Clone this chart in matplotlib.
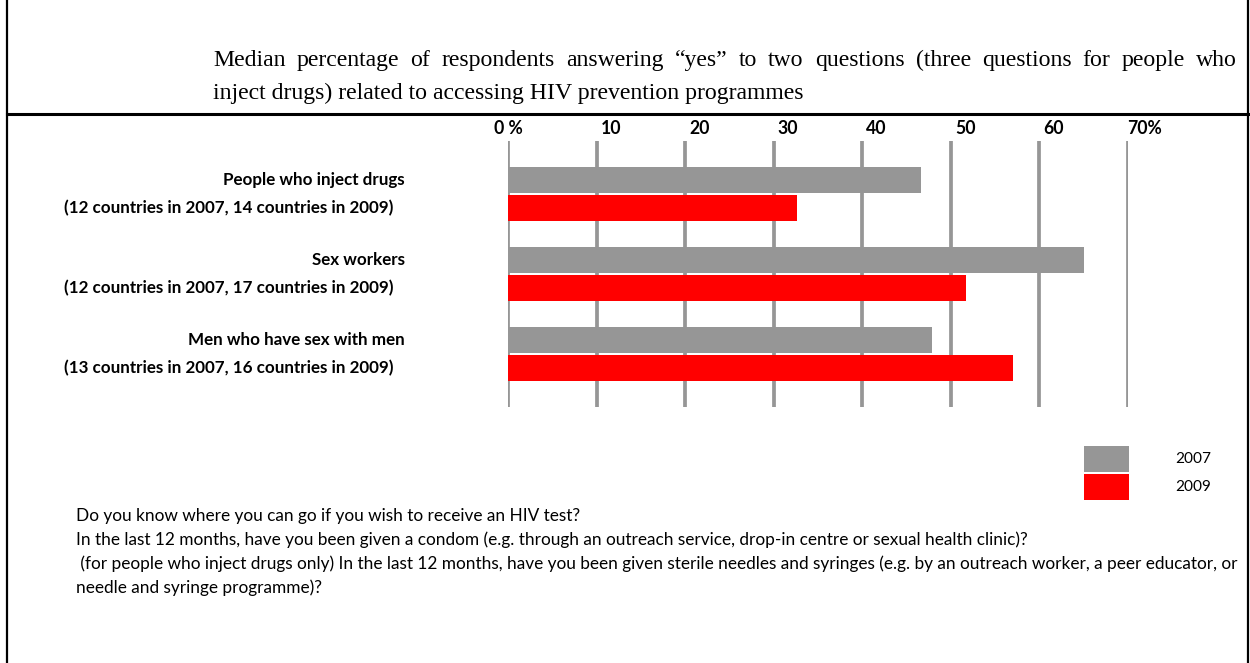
import matplotlib
matplotlib.use("Agg")
import matplotlib.pyplot as plt
from matplotlib.patches import Rectangle
from matplotlib.lines import Line2D
from matplotlib import transforms
import numpy as np

# ---------------- data ----------------
groups = ["People who inject drugs", "Sex workers", "Men who have sex with men"]
group_notes = ["(12 countries in 2007, 14 countries in 2009)",
               "(12 countries in 2007, 17 countries in 2009)",
               "(13 countries in 2007, 16 countries in 2009)"]
values_2007 = [46.6, 65.0, 47.9]
values_2009 = [32.6, 51.7, 57.0]
series_labels = ["2007", "2009"]
tick_values = [0, 10, 20, 30, 40, 50, 60, 70]
tick_labels = ["0 %", "10", "20", "30", "40", "50", "60", "70%"]
title_line1 = ("Median percentage of respondents answering \u201cyes\u201d to two questions "
               "(three questions for people who")
title_line2 = "inject drugs) related to accessing HIV prevention programmes"
footnotes = [
    "Do you know where you can go if you wish to receive an HIV test?",
    "In the last 12 months, have you been given a condom (e.g. through an outreach service, drop-in centre or sexual health clinic)?",
    " (for people who inject drugs only) In the last 12 months, have you been given sterile needles and syringes (e.g. by an outreach worker, a peer educator, or",
    "needle and syringe programme)?",
]

GRAY = "#969696"
RED = "#FF0000"
W, H = 1250, 663
SANS = ["Lato", "DejaVu Sans"]
SERIF = ["Liberation Serif", "DejaVu Serif"]

fig = plt.figure(figsize=(W / 100, H / 100), dpi=100)
fig.patch.set_facecolor("white")


def fx(x):
    return x / W


def fy(y):
    return 1 - y / H


renderer = fig.canvas.get_renderer()


def fit_width(t, target):
    bb = t.get_window_extent(renderer)
    t.set_fontsize(t.get_fontsize() * target / bb.width)


# ---------------- axes with bars ----------------
ax = fig.add_axes([fx(508), fy(407), fx(1128) - fx(508), fy(141) - fy(407)])
ax.set_xlim(0, 70)
ax.set_ylim(2.6625, -0.6625)
for s in ax.spines.values():
    s.set_visible(False)
ax.set_xticks([])
ax.set_yticks([])
ax.patch.set_alpha(0)

y = np.arange(len(groups))
off = 0.175
bh = 0.33
ax.vlines(tick_values, -0.6625, 2.6625, colors=GRAY, linewidth=2.7, zorder=1)
ax.barh(y - off, values_2007, height=bh, color=GRAY, zorder=2, label=series_labels[0])
ax.barh(y + off, values_2009, height=bh, color=RED, zorder=2, label=series_labels[1])

# tick labels on top
xtr = ax.get_xaxis_transform()
ylab = 1 + (141 - 128) / 266
tick_texts = []
for i, (v, lab) in enumerate(zip(tick_values, tick_labels)):
    if i == 0:
        tt = ax.text(v, ylab, lab, transform=xtr, ha="center", va="center",
                     fontsize=11, fontweight="bold", family=SANS)
    else:
        dx = 3 if i < len(tick_values) - 1 else -0.5
        tr = transforms.offset_copy(xtr, fig=fig, x=dx, y=0, units="points")
        tt = ax.text(v, ylab, lab, transform=tr, ha="left", va="center",
                     fontsize=11, fontweight="bold", family=SANS)
    tick_texts.append(tt)
fit_width(tick_texts[-1], 35)
for tt in tick_texts:
    tt.set_fontsize(tick_texts[-1].get_fontsize())

# category labels
btr = transforms.blended_transform_factory(fig.transFigure, ax.transData)
for i, (g, n) in enumerate(zip(groups, group_notes)):
    t1 = ax.text(fx(405), y[i] - off, g, transform=btr, ha="right", va="center",
                 fontsize=11, fontweight="bold", family=SANS)
    t2 = ax.text(fx(393), y[i] + off, n, transform=btr, ha="right", va="center",
                 fontsize=11, fontweight="bold", family=SANS)
    fit_width(t2, 330)
    t1.set_fontsize(t2.get_fontsize())

# ---------------- title (justified serif) ----------------
t = fig.text(fx(213), fy(99), title_line2, ha="left", va="baseline",
             fontsize=15, family=SERIF)
fit_width(t, 595)
tsize = t.get_fontsize()
words = title_line1.split()
wt = []
for w in words:
    tt = fig.text(0, fy(66), w, ha="left", va="baseline", fontsize=tsize, family=SERIF)
    wt.append(tt)
widths = [tt.get_window_extent(renderer).width for tt in wt]
gap = (1237 - 213 - sum(widths)) / (len(words) - 1)
xcur = 213
for tt, wd in zip(wt, widths):
    tt.set_x(fx(xcur))
    xcur += wd + gap

# ---------------- legend ----------------
fig.patches.append(Rectangle((fx(1084), fy(472)), fx(45), 26 / H, transform=fig.transFigure,
                             facecolor=GRAY, edgecolor="none"))
fig.patches.append(Rectangle((fx(1084), fy(500)), fx(45), 26 / H, transform=fig.transFigure,
                             facecolor=RED, edgecolor="none"))
l1 = fig.text(fx(1175), fy(459), series_labels[0], ha="left", va="center", fontsize=10.5, family=SANS)
l2 = fig.text(fx(1175), fy(487), series_labels[1], ha="left", va="center", fontsize=10.5, family=SANS)
fit_width(l1, 36)
l2.set_fontsize(l1.get_fontsize())

# ---------------- footnotes ----------------
ft = []
for k, line in enumerate(footnotes):
    ft.append(fig.text(fx(76), fy(516 + 24 * k), line, ha="left", va="center",
                       fontsize=10.5, family=SANS))
fit_width(ft[1], 959)
for f in ft:
    f.set_fontsize(ft[1].get_fontsize())

# ---------------- frame lines ----------------
fig.add_artist(Line2D([fx(7), fx(7)], [0, 1], transform=fig.transFigure, color="black", lw=1.6))
fig.add_artist(Line2D([fx(1248), fx(1248)], [0, 1], transform=fig.transFigure, color="black", lw=1.6))
fig.add_artist(Line2D([fx(7), fx(1250)], [fy(114), fy(114)], transform=fig.transFigure,
                      color="black", lw=2.2))

fig.savefig("out.png", dpi=100, facecolor="white")
